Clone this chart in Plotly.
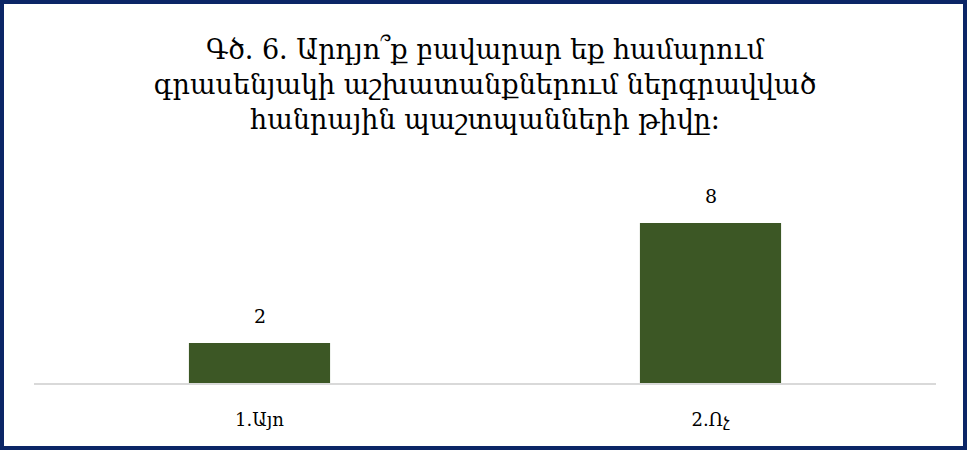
import plotly.graph_objects as go

categories = ["1.Այո", "2.Ոչ"]
values = [2, 8]
title_lines = [
    "Գծ. 6. Արդյո՞ք բավարար եք համարում",
    "գրասենյակի աշխատանքներում ներգրավված",
    "հանրային պաշտպանների թիվը:",
]

W, H = 967, 450
ml, mr, mt, mb = 34, 31, 175, 67
pw, ph = W - ml - mr, H - mt - mb

fig = go.Figure(go.Bar(
    x=categories, y=values,
    marker=dict(color="#3C5725", line=dict(width=0)),
    cliponaxis=False,
))

for c, v in zip(categories, values):
    fig.add_annotation(
        x=c, y=v, text=str(v), showarrow=False,
        yanchor="bottom", yshift=14,
        font=dict(family="DejaVu Serif", size=19, color="#000000"),
    )

fig.update_layout(
    width=W, height=H,
    margin=dict(l=ml, r=mr, t=mt, b=mb),
    paper_bgcolor="white", plot_bgcolor="white",
    bargap=0.687,
    showlegend=False,
    title=dict(
        text="<br>".join(title_lines),
        x=0.5, xanchor="center", xref="paper",
        y=1 - 59 / H, yanchor="middle", yref="container",
        font=dict(family="DejaVu Serif", size=27, color="#000000"),
    ),
    xaxis=dict(
        showline=True, linecolor="#D9D9D9", linewidth=1.5,
        showgrid=False, ticks="", ticklabelstandoff=20,
        tickfont=dict(family="DejaVu Serif", size=18, color="#000000"),
    ),
    yaxis=dict(range=[0, 10.4], visible=False, showgrid=False, zeroline=False),
    shapes=[dict(
        type="rect", xref="paper", yref="paper",
        x0=(2 - ml) / pw, x1=(W - 2 - ml) / pw,
        y0=(mt + ph - (H - 2)) / ph, y1=(mt + ph - 2) / ph,
        line=dict(color="#0B2566", width=4), fillcolor="rgba(0,0,0,0)",
        layer="above",
    )],
)

fig.write_html("out.html", config={"displayModeBar": False},
               post_script="document.body.style.margin='0';")
